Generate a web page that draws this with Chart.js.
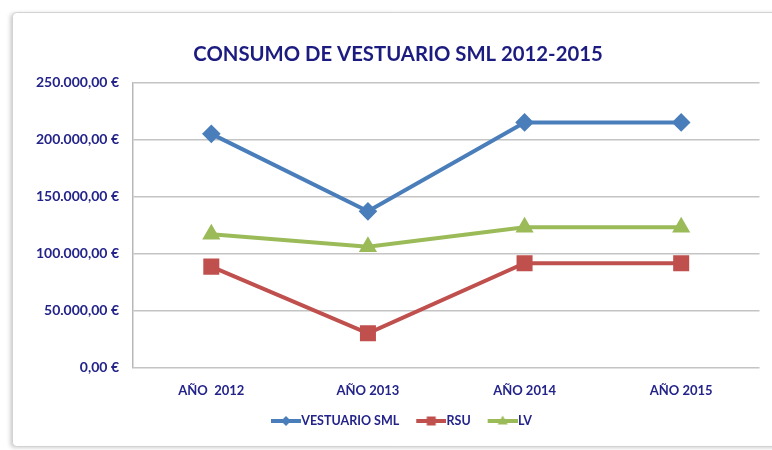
<!DOCTYPE html>
<html><head><meta charset="utf-8">
<script src="https://cdn.jsdelivr.net/npm/chart.js@4/dist/chart.umd.min.js"></script>
<style>
html,body{margin:0;padding:0;background:#fff;overflow:hidden;}
#c{display:block;}
</style></head><body>
<canvas id="c" width="772" height="450"></canvas>
<script>
const categories = ['AÑO  2012', 'AÑO 2013', 'AÑO 2014', 'AÑO 2015'];
const vestuarioSML = [205000, 137000, 215000, 215000];
const rsu = [88500, 30000, 91500, 91500];
const lv = [117000, 106000, 123000, 123000];
const seriesNames = ['VESTUARIO SML', 'RSU', 'LV'];
const titleText = 'CONSUMO DE VESTUARIO SML 2012-2015';

const BLUE = '#4a7ebb', RED = '#c0504d', GREEN = '#9bbb59';
const TEXT = '#23238a';

function eur(v) {
  const s = Math.round(v).toString().replace(/\B(?=(\d{3})+(?!\d))/g, '.');
  return s + ',00 €';
}

function legendImg(color, style) {
  const c = document.createElement('canvas');
  c.width = 43; c.height = 14;
  const g = c.getContext('2d');
  g.strokeStyle = color; g.fillStyle = color; g.lineWidth = 4;
  g.beginPath(); g.moveTo(13, 7); g.lineTo(43, 7); g.stroke();
  const x = 28, y = 7;
  g.beginPath();
  if (style === 'diamond') { g.moveTo(x, y - 5); g.lineTo(x + 5, y); g.lineTo(x, y + 5); g.lineTo(x - 5, y); g.closePath(); }
  else if (style === 'square') { g.rect(x - 4.5, y - 4.5, 9, 9); }
  else { g.moveTo(x, y - 5.5); g.lineTo(x + 5, y + 3.5); g.lineTo(x - 5, y + 3.5); g.closePath(); }
  g.fill();
  return c;
}
const legendImgs = [legendImg(BLUE, 'diamond'), legendImg(RED, 'square'), legendImg(GREEN, 'triangle')];

const framePlugin = {
  id: 'frame',
  beforeDraw(chart) {
    const ctx = chart.ctx;
    ctx.save();
    ctx.fillStyle = '#fff';
    ctx.fillRect(0, 0, chart.width, chart.height);
    ctx.shadowColor = 'rgba(0,0,0,0.22)';
    ctx.shadowBlur = 4;
    ctx.shadowOffsetX = -2;
    ctx.shadowOffsetY = 1;
    ctx.beginPath();
    ctx.roundRect(12.5, 12.5, 900, 434, 4);
    ctx.fillStyle = '#fff';
    ctx.fill();
    ctx.shadowColor = 'transparent';
    ctx.strokeStyle = '#d2d2d2';
    ctx.lineWidth = 1;
    ctx.stroke();
    ctx.restore();
  }
};

new Chart(document.getElementById('c'), {
  type: 'line',
  data: {
    labels: categories,
    datasets: [
      { label: seriesNames[0], data: vestuarioSML, borderColor: BLUE, backgroundColor: BLUE, borderWidth: 4, pointStyle: 'rectRot', pointRadius: 6.5, pointHoverRadius: 6.5, tension: 0 },
      { label: seriesNames[1], data: rsu, borderColor: RED, backgroundColor: RED, borderWidth: 4, pointStyle: 'rect', pointRadius: 8.5, pointHoverRadius: 8.5, tension: 0 },
      { label: seriesNames[2], data: lv, borderColor: GREEN, backgroundColor: GREEN, borderWidth: 4, pointStyle: 'triangle', pointRadius: 6.5, pointHoverRadius: 6.5, tension: 0 }
    ]
  },
  plugins: [framePlugin],
  options: {
    responsive: false,
    animation: false,
    layout: { padding: { left: 33, right: 9, top: 0, bottom: 12.75 } },
    plugins: {
      title: {
        display: true, text: titleText, color: '#1c1c80',
        font: { family: 'Lato', weight: 'bold', size: 20.3 },
        padding: { top: 42, bottom: 16.2 }
      },
      legend: {
        position: 'bottom',
        labels: {
          usePointStyle: true, pointStyleWidth: 31, padding: 10,
          color: TEXT, font: { family: 'Lato', weight: 'bold', size: 12.5 },
          generateLabels: (chart) => {
            const items = Chart.defaults.plugins.legend.labels.generateLabels(chart);
            items.forEach((it, i) => { it.pointStyle = legendImgs[i]; });
            return items;
          }
        }
      },
      tooltip: { enabled: false }
    },
    scales: {
      x: {
        offset: true,
        grid: { display: false, drawTicks: false },
        border: { display: false },
        ticks: { color: TEXT, font: { family: 'Lato', weight: 'bold', size: 13 }, padding: 16, maxRotation: 0 },
        afterFit: (s) => { s.height = 37.25; }
      },
      y: {
        min: 0, max: 250000,
        grid: { color: '#c4c4c4', lineWidth: 1.5, drawTicks: false },
        border: { display: true, color: '#b8b8b8', width: 1.5 },
        ticks: { stepSize: 50000, color: TEXT, font: { family: 'Lato', weight: 'bold', size: 14 }, padding: 14, callback: (v) => eur(v) },
        afterFit: (s) => { s.width = 100; }
      }
    }
  }
});
</script>
</body></html>
